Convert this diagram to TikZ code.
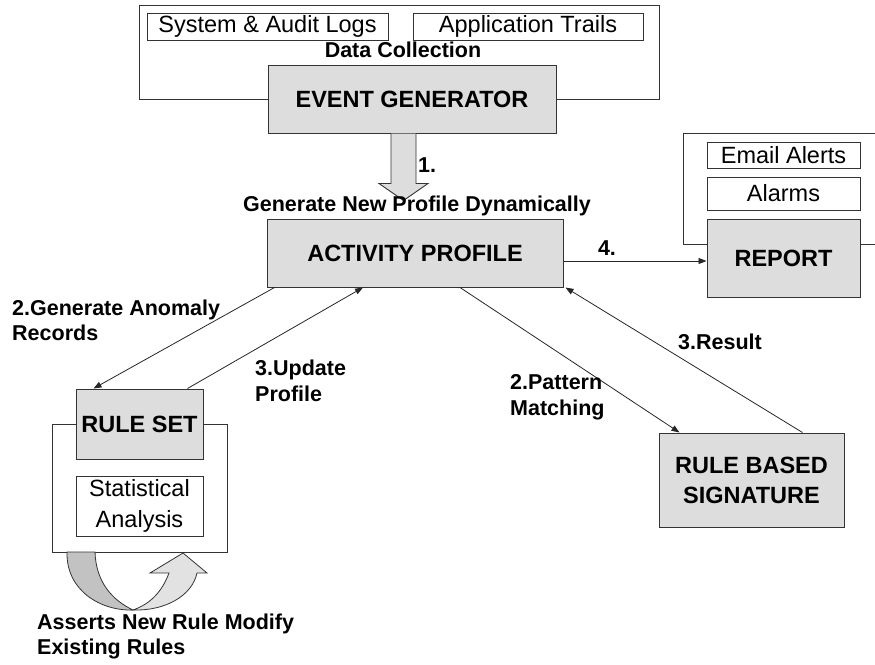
\documentclass[tikz,border=0pt]{standalone}
\usepackage{fontspec}
\setmainfont{Liberation Sans}
\usetikzlibrary{arrows.meta,calc}
\definecolor{boxgray}{HTML}{DDDDDD}
\definecolor{darkband}{HTML}{C2C2C2}
\definecolor{lightband}{HTML}{E2E2E2}
\definecolor{edge}{HTML}{333333}
\begin{document}
\begin{tikzpicture}[x=1pt,y=-1pt,
  box/.style={draw=edge, line width=1pt, fill=boxgray, inner sep=0pt, font=\fontsize{23.5}{30}\selectfont\bfseries, align=center},
  sub/.style={draw=edge, line width=1pt, fill=white, inner sep=0pt, font=\fontsize{23.5}{31.5}\selectfont, align=center},
  frame/.style={draw=edge, line width=1pt},
  lbl/.style={font=\fontsize{21.5}{25.5}\selectfont\bfseries, inner sep=0pt, align=left},
  arr/.style={draw=black!85, line width=0.8pt, -{Triangle[length=8pt,width=6pt]}},
  fat/.style={draw=edge, line width=0.9pt, fill=boxgray},
]
\useasboundingbox (0,0) rectangle (875,664);

% ---------- Data collection group ----------
\draw[frame] (139,5) rectangle (659,99);
\node[sub, minimum width=241pt, minimum height=27pt] (sys) at (267.5,26.5) {System \& Audit Logs};
\node[sub, minimum width=230pt, minimum height=27pt] (app) at (528,26.5) {Application Trails};
\node[lbl] (dc) at (403,50) {Data Collection};
\node[box, minimum width=288pt, minimum height=68pt] (evt) at (412,99) {EVENT GENERATOR};

% ---------- fat arrow ----------
\draw[fat] ([xshift=-21pt]evt.south) -- ++(0,50) -- ++(-12,0) -- ++(24.5,17) -- ++(24.5,-17) -- ++(-12,0) -- ++(0,-50);
\node[lbl, anchor=west] (one) at (418,165) {1.};
\node[lbl] (gen) at (417,206) {Generate New Profile Dynamically};

% ---------- Activity profile ----------
\node[box, minimum width=296pt, minimum height=68pt] (act) at (415,253) {ACTIVITY PROFILE};

% ---------- Report group ----------
\draw[frame] (875,133) -- (683,133) -- (683,244) -- (875,244);
\node[sub, minimum width=153pt, minimum height=26pt] (mail) at (783.5,155) {Email Alerts};
\node[sub, minimum width=153pt, minimum height=33pt] (alarm) at (783.5,193.5) {Alarms};
\node[box, minimum width=153pt, minimum height=78pt] (rep) at (783.5,258) {REPORT};
\node[lbl] (four) at (607,248) {4.};
\draw[arr] ([yshift=-8pt]act.east) -- ([yshift=-3pt]rep.west);

% ---------- Rule set group ----------
\draw[frame] (52,424) rectangle (227,552);
\node[box, minimum width=127pt, minimum height=70pt] (rs) at (139.5,424) {RULE SET};
\node[sub, minimum width=127pt, minimum height=60pt] (stat) at (139.5,506) {Statistical\\Analysis};

% curved arrows
\draw[draw=edge, line width=0.8pt, fill=darkband]
  (67,552) .. controls (66,590) and (100,611) .. (133,610)
  .. controls (112,600) and (96,582) .. (95,552) -- cycle;
\draw[draw=edge, line width=0.8pt, fill=lightband]
  (133,610) .. controls (165,611) and (192,596) .. (197,573)
  -- (207,573) -- (183,553) -- (150,573) -- (169,573)
  .. controls (162,592) and (150,604) .. (133,610) -- cycle;
\node[lbl, anchor=west] (assert) at (37,636.5) {Asserts New Rule Modify\\Existing Rules};

% ---------- Rule based signature ----------
\node[box, minimum width=185pt, minimum height=94pt] (sig) at (751.5,480) {RULE BASED\\SIGNATURE};

% ---------- connectors ----------
\draw[arr] ([xshift=8pt]act.south west) -- ([xshift=-46pt]rs.north);
\draw[arr] ([xshift=48pt]rs.north) -- ([xshift=-52pt]act.south);
\draw[arr] ([xshift=45pt]act.south) -- ([xshift=21pt]sig.north west);
\draw[arr] ([xshift=51pt]sig.north) -- ([xshift=2pt]act.south east);

% ---------- labels ----------
\node[lbl, anchor=west] (l2a) at (12,320.5) {2.Generate Anomaly\\Records};
\node[lbl, anchor=west] (l3a) at (255,381) {3.Update\\Profile};
\node[lbl, anchor=west] (l2b) at (510,397.5) {2.Pattern\\Matching};
\node[lbl, anchor=west] (l3b) at (678,342) {3.Result};
\end{tikzpicture}
\end{document}
